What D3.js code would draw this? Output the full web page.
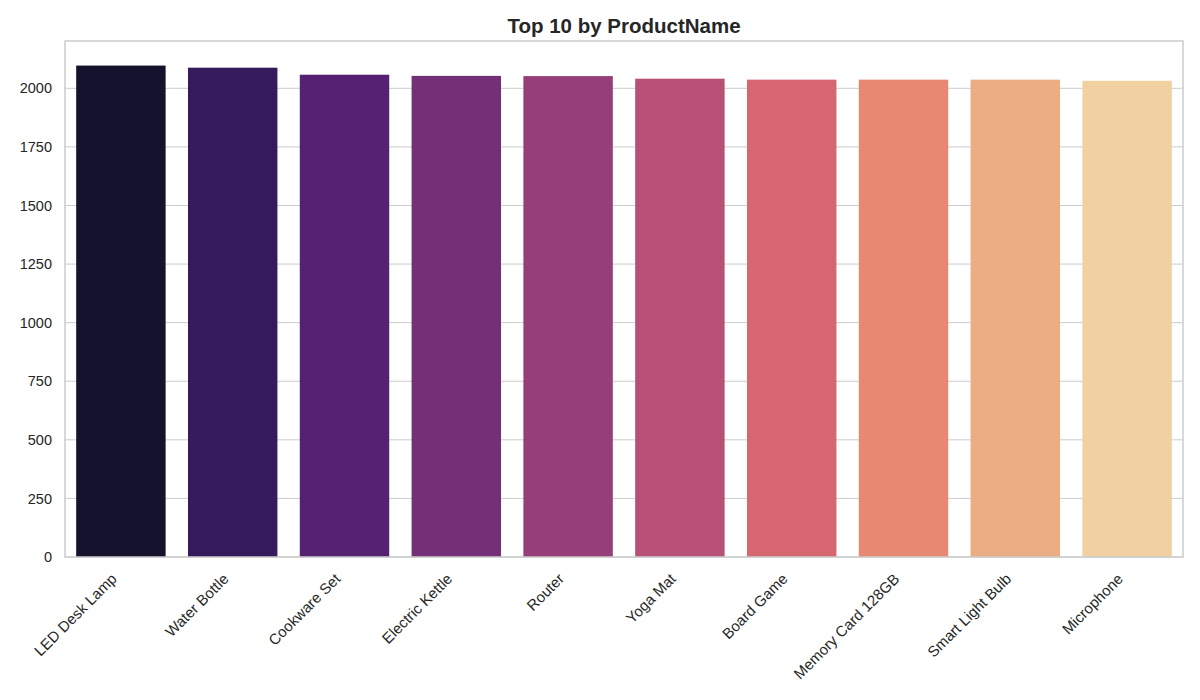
<!DOCTYPE html>
<html>
<head>
<meta charset="utf-8">
<script src="https://cdn.jsdelivr.net/npm/d3@7"></script>
<style>
  body { margin: 0; background: #fff; }
  svg text { font-family: "Liberation Sans", Arial, sans-serif; fill: #262626; }
</style>
</head>
<body>
<div id="draw_svg"></div>
<script>
// chart data
const products = ["LED Desk Lamp", "Water Bottle", "Cookware Set", "Electric Kettle", "Router",
  "Yoga Mat", "Board Game", "Memory Card 128GB", "Smart Light Bulb", "Microphone"];
const counts = [2097, 2088, 2058, 2053, 2052, 2041, 2037, 2037, 2037, 2032];
const yTicks = [0, 250, 500, 750, 1000, 1250, 1500, 1750, 2000];
const chartTitle = "Top 10 by ProductName";

const W = 1200, H = 700;
const margin = {top: 41, right: 17, bottom: 143, left: 65};

// seaborn style magma palette, desaturated like barplot does
const getColors = (n) => {
  const out = [];
  for (let i = 0; i < n; i++) {
    const c = d3.hsl(d3.interpolateMagma((i + 1) / (n + 1)));
    c.s *= 0.75;
    out.push(c.formatHex());
  }
  return out;
};

const drawChart = () => {
  const svg = d3.select('#draw_svg').append('svg')
    .attr('width', W).attr('height', H);

  const x = d3.scaleBand().domain(products)
    .range([margin.left, W - margin.right]).paddingInner(0.2).paddingOuter(0.1);
  const y = d3.scaleLinear().domain([0, d3.max(counts) * 1.05])
    .range([H - margin.bottom, margin.top]);
  const colors = getColors(products.length);

  // grid
  svg.append('g')
    .selectAll('line').data(yTicks).enter().append('line')
    .attr('x1', margin.left).attr('x2', W - margin.right)
    .attr('y1', d => y(d)).attr('y2', d => y(d))
    .attr('stroke', '#cccccc').attr('stroke-width', 1);

  // bars
  svg.append('g').selectAll('rect')
    .data(products).enter().append('rect')
    .attr('x', d => x(d))
    .attr('width', x.bandwidth())
    .attr('y', (d, i) => y(counts[i]))
    .attr('height', (d, i) => y(0) - y(counts[i]))
    .attr('fill', (d, i) => colors[i]);

  // frame
  svg.append('rect')
    .attr('x', margin.left).attr('y', margin.top)
    .attr('width', W - margin.left - margin.right)
    .attr('height', H - margin.top - margin.bottom)
    .attr('fill', 'none').attr('stroke', '#cccccc').attr('stroke-width', 1.5);

  // y axis
  const yAxis = svg.append('g')
    .attr('transform', `translate(${margin.left},0)`)
    .call(d3.axisLeft(y).tickValues(yTicks).tickFormat(d3.format('d')).tickSize(0).tickPadding(13));
  yAxis.select('.domain').remove();
  yAxis.selectAll('text').style('font-size', '14.5px');

  // x axis
  const xAxis = svg.append('g')
    .attr('transform', `translate(0,${H - margin.bottom})`)
    .call(d3.axisBottom(x).tickSize(0));
  xAxis.select('.domain').remove();
  xAxis.selectAll('text')
    .style('font-size', '15px')
    .attr('text-anchor', 'end')
    .attr('dy', '0.35em')
    .attr('transform', 'translate(-9,17) rotate(-45)');

  // title
  svg.append('text')
    .attr('x', (margin.left + W - margin.right) / 2).attr('y', 33)
    .attr('text-anchor', 'middle')
    .style('font-size', '20.5px').style('font-weight', 'bold')
    .text(chartTitle);
};

window.onload = () => { drawChart(); };
</script>
</body>
</html>
